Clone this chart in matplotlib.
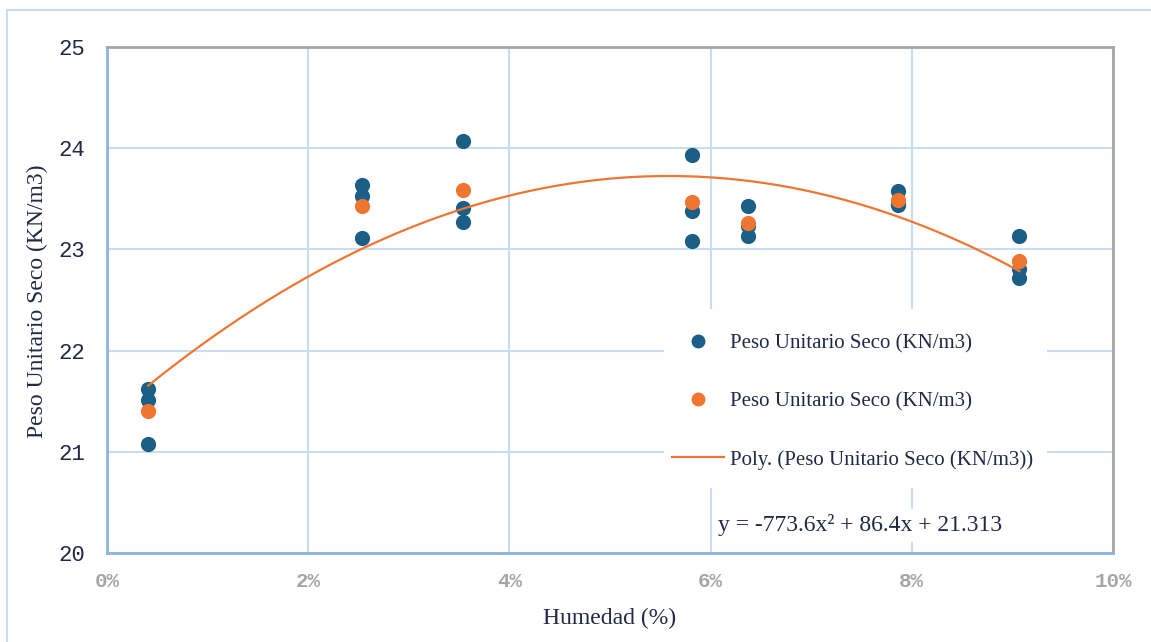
import matplotlib.pyplot as plt
import matplotlib.ticker as mticker
from matplotlib.lines import Line2D
from matplotlib.patches import Rectangle
import numpy as np

# Humedad (fraccion) y peso unitario seco de cada ensayo
humedad = [0.0041, 0.0253, 0.0354, 0.0582, 0.0637, 0.0786, 0.0907]
peso_ensayo_1 = [21.62, 23.64, 24.07, 23.93, 23.43, 23.58, 23.13]
peso_ensayo_2 = [21.51, 23.53, 23.41, 23.38, 23.23, 23.45, 22.81]
peso_ensayo_3 = [21.08, 23.11, 23.27, 23.08, 23.13, 23.44, 22.72]
peso_promedio = [21.40, 23.43, 23.59, 23.47, 23.26, 23.49, 22.89]

# Coeficientes de la linea de tendencia polinomica (orden 2)
coef_a, coef_b, coef_c = -773.6, 86.4, 21.313

azul = '#1B5E86'
naranja = '#EE7631'
grid_col = '#C9DCF2'
texto = '#1F2A44'

fig = plt.figure(figsize=(11.51, 6.42), dpi=100)
ax = fig.add_axes([107 / 1151, 89 / 642, 1006 / 1151, 506 / 642])

# borde del area del grafico
fig.add_artist(Line2D([7 / 1151, 7 / 1151], [0, 1 - 10 / 642], color=grid_col, lw=1.5,
                      transform=fig.transFigure))
fig.add_artist(Line2D([7 / 1151, 1], [1 - 10 / 642, 1 - 10 / 642], color=grid_col, lw=1.5,
                      transform=fig.transFigure))

ax.set_xlim(0, 0.10)
ax.set_ylim(20, 25)
ax.xaxis.set_major_locator(mticker.MultipleLocator(0.02))
ax.yaxis.set_major_locator(mticker.MultipleLocator(1))
ax.xaxis.set_major_formatter(mticker.FuncFormatter(lambda v, p: f'{v * 100:.0f}%'))
ax.grid(True, color=grid_col, lw=1.5, zorder=0)
ax.set_axisbelow(True)

for s in ['left', 'bottom']:
    ax.spines[s].set_color('#8DB4E2')
    ax.spines[s].set_linewidth(2)
for s in ['top', 'right']:
    ax.spines[s].set_color('#A6A6A6')
    ax.spines[s].set_linewidth(2)

ax.tick_params(axis='both', length=0)
ax.tick_params(axis='y', pad=16, labelsize=16, labelcolor=texto)
ax.tick_params(axis='x', pad=14, labelsize=15, labelcolor='#A6A6A6')
for lab in ax.get_yticklabels():
    lab.set_family('Liberation Mono')
for lab in ax.get_xticklabels():
    lab.set_family('Liberation Mono')
    lab.set_fontweight('bold')

for serie in [peso_ensayo_1, peso_ensayo_2, peso_ensayo_3]:
    ax.scatter(humedad, serie, s=120, color=azul, zorder=3, linewidths=0)
ax.scatter(humedad, peso_promedio, s=120, color=naranja, zorder=4, linewidths=0)

xs = np.linspace(min(humedad), max(humedad), 200)
ax.plot(xs, coef_a * xs ** 2 + coef_b * xs + coef_c, color=naranja, lw=1.6, zorder=5)

ax.set_xlabel('Humedad (%)', family='Liberation Serif', fontsize=17, color=texto, va='center')
ax.set_ylabel('Peso Unitario Seco (KN/m3)', family='Liberation Serif', fontsize=17,
              color=texto, va='center')
ax.xaxis.set_label_coords(0.5, -0.1285)
ax.yaxis.set_label_coords(-0.0696, 0.497)

# caja blanca de la leyenda
ax.add_patch(Rectangle((0.554, 0.128), 0.38, 0.354, transform=ax.transAxes,
                       facecolor='white', edgecolor='none', zorder=1))
handles = [
    Line2D([], [], ls='none', marker='o', ms=9, color=azul),
    Line2D([], [], ls='none', marker='o', ms=9, color=naranja),
    Line2D([], [], color=naranja, lw=1.6),
]
labels = ['Peso Unitario Seco (KN/m3)'] * 2 + ['Poly. (Peso Unitario Seco (KN/m3))']
leg = ax.legend(handles, labels, loc='upper left', bbox_to_anchor=(0.553, 0.450),
                frameon=False, prop={'family': 'Liberation Serif', 'size': 15},
                labelspacing=1.85, handlelength=2.5, handletextpad=0.3, borderaxespad=0)
for t in leg.get_texts():
    t.set_color(texto)

ax.text(0.607, 0.055, 'y = -773.6x² + 86.4x + 21.313', transform=ax.transAxes,
        family='Liberation Serif', fontsize=17, color=texto, va='center', ha='left',
        bbox=dict(facecolor='white', edgecolor='none', pad=4), zorder=6)

fig.savefig('out.png', dpi=100)
